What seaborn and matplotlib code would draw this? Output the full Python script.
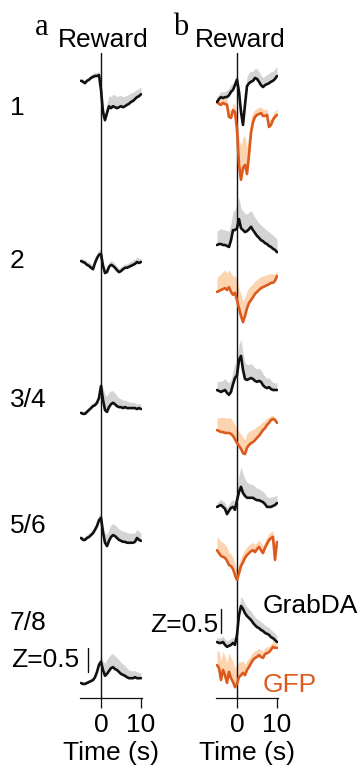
import numpy as np
import matplotlib
matplotlib.use("Agg")
import matplotlib.pyplot as plt
import seaborn as sns

# time axis (s), relative to reward delivery
time_s = [-5.0, -4.5, -4.0, -3.5, -3.0, -2.5, -2.0, -1.5, -1.0, -0.5,
          0.0, 0.5, 1.0, 1.5, 2.0, 2.5, 3.0, 3.5, 4.0, 4.5, 5.0,
          5.5, 6.0, 6.5, 7.0, 7.5, 8.0, 8.5, 9.0, 9.5, 10.0]

row_labels = ["1", "2", "3/4", "5/6", "7/8"]

# panel a: GrabDA mean Z and sem per session block
a_mean_1 = [0.40, 0.38, 0.35, 0.40, 0.42, 0.46, 0.48, 0.50, 0.50, 0.52, 0.21, -0.25, -0.42, -0.27, -0.13, -0.17,
            -0.13, -0.15, -0.17, -0.15, -0.13, -0.15, -0.13, -0.10, -0.08, -0.04, -0.02, 0.02, 0.06, 0.08, 0.12]
a_mean_2 = [0.02, 0.00, -0.02, -0.06, -0.08, -0.12, -0.15, -0.02, 0.08, 0.15, 0.17, -0.08, -0.23, -0.21, -0.10, -0.06,
            -0.08, -0.12, -0.17, -0.21, -0.19, -0.15, -0.12, -0.12, -0.10, -0.08, -0.06, -0.04, 0.00, -0.02, 0.00]
a_mean_3 = [-0.06, -0.08, -0.08, -0.04, 0.00, 0.04, 0.08, 0.10, 0.15, 0.25, 0.50, 0.21, 0.00, -0.04, 0.06, 0.12,
            0.15, 0.12, 0.08, 0.06, 0.06, 0.04, 0.06, 0.04, 0.04, 0.04, 0.04, 0.04, 0.02, 0.04, 0.02]
a_mean_4 = [-0.02, -0.06, -0.06, -0.02, 0.00, 0.04, 0.08, 0.15, 0.23, 0.35, 0.40, 0.10, -0.12, -0.19, -0.08, 0.00,
            0.04, 0.02, -0.02, -0.06, -0.08, -0.10, -0.10, -0.12, -0.12, -0.12, -0.12, -0.10, -0.02, -0.06, -0.08]
a_mean_5 = [0.00, -0.02, -0.02, 0.00, 0.02, 0.04, 0.06, 0.12, 0.23, 0.38, 0.44, 0.27, 0.15, 0.19, 0.25, 0.31,
            0.33, 0.29, 0.27, 0.23, 0.19, 0.17, 0.15, 0.12, 0.10, 0.10, 0.10, 0.12, 0.10, 0.10, 0.10]

a_sem_1 = [0.06, 0.06, 0.05, 0.06, 0.06, 0.07, 0.08, 0.08, 0.07, 0.08, 0.10, 0.12, 0.15, 0.20, 0.22, 0.24,
           0.25, 0.25, 0.24, 0.24, 0.22, 0.22, 0.21, 0.20, 0.20, 0.19, 0.18, 0.17, 0.16, 0.16, 0.15]
a_sem_2 = [0.06, 0.06, 0.07, 0.07, 0.08, 0.08, 0.08, 0.08, 0.09, 0.10, 0.10, 0.09, 0.09, 0.09, 0.09, 0.09,
           0.09, 0.08, 0.08, 0.08, 0.08, 0.08, 0.08, 0.08, 0.09, 0.09, 0.10, 0.10, 0.10, 0.09, 0.08]
a_sem_3 = [0.05, 0.05, 0.06, 0.06, 0.06, 0.07, 0.07, 0.08, 0.08, 0.10, 0.12, 0.25, 0.32, 0.33, 0.31, 0.28,
           0.25, 0.23, 0.21, 0.19, 0.17, 0.16, 0.15, 0.14, 0.13, 0.12, 0.12, 0.11, 0.10, 0.10, 0.09]
a_sem_4 = [0.06, 0.06, 0.06, 0.07, 0.07, 0.07, 0.08, 0.08, 0.09, 0.10, 0.10, 0.14, 0.20, 0.24, 0.25, 0.25,
           0.24, 0.23, 0.23, 0.22, 0.22, 0.22, 0.21, 0.21, 0.20, 0.20, 0.20, 0.19, 0.18, 0.17, 0.16]
a_sem_5 = [0.04, 0.04, 0.05, 0.05, 0.05, 0.06, 0.06, 0.07, 0.08, 0.10, 0.12, 0.18, 0.26, 0.30, 0.30, 0.29,
           0.28, 0.27, 0.26, 0.25, 0.24, 0.22, 0.21, 0.19, 0.17, 0.16, 0.15, 0.14, 0.13, 0.12, 0.11]

# panel b: GrabDA vs GFP
b_grab_1 = [-0.04, 0.02, 0.06, 0.04, 0.06, 0.06, 0.10, 0.17, 0.21, 0.31, 0.42, 0.17, -0.25, -0.52, -0.10, 0.29,
            0.35, 0.38, 0.40, 0.46, 0.44, 0.38, 0.31, 0.27, 0.31, 0.33, 0.35, 0.38, 0.40, 0.44, 0.50]
b_grab_2 = [0.00, 0.02, 0.02, 0.00, 0.00, -0.02, -0.04, 0.10, 0.31, 0.31, 0.35, 0.54, 0.35, 0.31, 0.27, 0.29,
            0.33, 0.38, 0.31, 0.25, 0.19, 0.15, 0.10, 0.08, 0.04, 0.02, -0.02, -0.04, -0.08, -0.10, -0.15]
b_grab_3 = [0.00, -0.02, -0.04, -0.02, 0.00, -0.06, -0.10, -0.04, 0.12, 0.25, 0.31, 0.62, 0.71, 0.42, 0.23, 0.21,
            0.23, 0.25, 0.23, 0.19, 0.17, 0.19, 0.17, 0.10, 0.06, 0.04, 0.06, 0.02, 0.00, 0.00, 0.00]
b_grab_4 = [-0.04, -0.02, 0.00, -0.04, -0.08, -0.19, -0.12, -0.06, -0.04, -0.10, 0.10, 0.27, 0.38, 0.25, 0.19, 0.15,
            0.15, 0.15, 0.15, 0.12, 0.10, 0.10, 0.08, 0.06, 0.02, -0.04, -0.04, -0.04, -0.02, 0.00, 0.04]
b_grab_5 = [0.00, -0.02, -0.02, 0.00, -0.06, -0.10, -0.08, -0.06, -0.02, -0.06, 0.15, 0.56, 0.75, 0.69, 0.60, 0.54,
            0.50, 0.46, 0.40, 0.35, 0.31, 0.29, 0.25, 0.23, 0.19, 0.17, 0.15, 0.10, 0.08, 0.04, 0.00]

b_grab_sem_1 = [0.10, 0.10, 0.12, 0.13, 0.12, 0.14, 0.15, 0.15, 0.14, 0.15, 0.12, 0.12, 0.15, 0.18, 0.20, 0.20,
                0.22, 0.22, 0.20, 0.20, 0.21, 0.21, 0.20, 0.20, 0.19, 0.20, 0.20, 0.21, 0.20, 0.21, 0.20]
b_grab_sem_2 = [0.28, 0.30, 0.32, 0.32, 0.31, 0.32, 0.33, 0.35, 0.38, 0.42, 0.50, 0.45, 0.42, 0.40, 0.38, 0.36,
                0.35, 0.34, 0.33, 0.32, 0.32, 0.31, 0.31, 0.30, 0.30, 0.29, 0.29, 0.28, 0.28, 0.27, 0.26]
b_grab_sem_3 = [0.18, 0.20, 0.22, 0.22, 0.24, 0.24, 0.25, 0.25, 0.28, 0.30, 0.30, 0.32, 0.35, 0.34, 0.33, 0.32,
                0.30, 0.30, 0.28, 0.27, 0.27, 0.26, 0.25, 0.24, 0.22, 0.20, 0.20, 0.18, 0.16, 0.15, 0.15]
b_grab_sem_4 = [0.10, 0.10, 0.12, 0.12, 0.13, 0.14, 0.14, 0.15, 0.15, 0.16, 0.20, 0.35, 0.42, 0.40, 0.35, 0.32,
                0.30, 0.28, 0.27, 0.26, 0.25, 0.24, 0.23, 0.22, 0.22, 0.21, 0.20, 0.20, 0.19, 0.18, 0.17]
b_grab_sem_5 = [0.10, 0.10, 0.11, 0.12, 0.12, 0.12, 0.13, 0.13, 0.12, 0.12, 0.12, 0.16, 0.20, 0.20, 0.19, 0.19,
                0.18, 0.18, 0.18, 0.17, 0.17, 0.17, 0.17, 0.16, 0.16, 0.16, 0.15, 0.15, 0.14, 0.14, 0.13]

b_gfp_1 = [0.02, -0.02, -0.04, 0.00, -0.02, -0.04, -0.29, -0.31, -0.15, -0.19, -0.56, -1.29, -1.60, -1.35, -1.29, -1.48,
           -1.08, -0.62, -0.40, -0.29, -0.25, -0.23, -0.21, -0.27, -0.27, -0.25, -0.50, -0.46, -0.35, -0.29, -0.25]
b_gfp_2 = [-0.04, -0.02, 0.00, 0.02, 0.04, 0.00, 0.06, -0.04, -0.10, -0.06, -0.21, -0.38, -0.54, -0.67, -0.54, -0.38,
           -0.27, -0.21, -0.15, -0.08, -0.04, 0.00, 0.04, 0.06, 0.08, 0.10, 0.12, 0.15, 0.15, 0.19, 0.29]
b_gfp_3 = [0.04, 0.02, 0.00, 0.00, -0.02, -0.02, -0.02, -0.04, -0.08, -0.15, -0.23, -0.29, -0.35, -0.44, -0.46, -0.33,
           -0.27, -0.23, -0.21, -0.17, -0.12, -0.08, -0.02, 0.04, 0.08, 0.15, 0.19, 0.25, 0.27, 0.25, 0.19]
b_gfp_4 = [0.10, 0.04, -0.02, -0.04, -0.06, -0.12, -0.21, -0.23, -0.29, -0.42, -0.52, -0.38, -0.23, -0.15, -0.06, 0.00,
           0.04, 0.08, 0.10, 0.06, 0.12, 0.17, 0.10, 0.04, 0.15, 0.23, 0.31, 0.35, 0.38, -0.10, 0.27]
b_gfp_5 = [0.06, 0.00, -0.25, -0.04, -0.15, -0.31, -0.08, -0.21, -0.29, -0.40, -0.33, -0.19, -0.15, -0.10, -0.15, -0.04,
           0.02, 0.10, 0.17, 0.21, 0.23, 0.27, 0.23, 0.21, 0.29, 0.31, 0.33, 0.38, 0.44, 0.42, 0.42]

b_gfp_sem_1 = [0.10, 0.10, 0.11, 0.12, 0.12, 0.12, 0.15, 0.15, 0.14, 0.15, 0.30, 0.55, 0.70, 0.65, 0.60, 0.55,
               0.45, 0.30, 0.20, 0.15, 0.14, 0.14, 0.13, 0.14, 0.13, 0.13, 0.14, 0.13, 0.13, 0.12, 0.12]
b_gfp_sem_2 = [0.30, 0.32, 0.34, 0.36, 0.38, 0.35, 0.36, 0.40, 0.38, 0.36, 0.40, 0.42, 0.45, 0.42, 0.40, 0.35,
               0.32, 0.30, 0.28, 0.27, 0.25, 0.25, 0.24, 0.23, 0.22, 0.22, 0.21, 0.20, 0.18, 0.15, 0.12]
b_gfp_sem_3 = [0.25, 0.28, 0.30, 0.30, 0.32, 0.30, 0.32, 0.32, 0.30, 0.30, 0.30, 0.30, 0.30, 0.32, 0.30, 0.30,
               0.28, 0.27, 0.26, 0.25, 0.24, 0.22, 0.20, 0.18, 0.16, 0.14, 0.12, 0.10, 0.08, 0.06, 0.05]
b_gfp_sem_4 = [0.28, 0.30, 0.30, 0.30, 0.28, 0.28, 0.26, 0.25, 0.24, 0.22, 0.20, 0.20, 0.19, 0.18, 0.18, 0.17,
               0.17, 0.16, 0.16, 0.16, 0.15, 0.15, 0.15, 0.15, 0.14, 0.14, 0.14, 0.13, 0.13, 0.12, 0.12]
b_gfp_sem_5 = [0.30, 0.35, 0.40, 0.38, 0.40, 0.42, 0.40, 0.42, 0.42, 0.40, 0.38, 0.32, 0.28, 0.25, 0.22, 0.20,
               0.18, 0.17, 0.16, 0.15, 0.15, 0.14, 0.14, 0.14, 0.13, 0.13, 0.12, 0.12, 0.12, 0.10, 0.10]

# layout (pixels on a 360x776 canvas)
FIG_W, FIG_H = 360, 776
PX_PER_Z = 48.0
AX_BOTTOM = 698
a_base = [100, 262, 410, 537, 683]
b_grab_base = [100, 245, 390, 505, 642]
b_gfp_base = [103, 290, 432, 555, 668]
label_baseline = [115, 268, 407, 533, 630]

BLACK = "#111111"
GRAY = "#d4d4d4"
ORANGE = "#dc5a1e"
PEACH = "#fdd4b0"
FS = 19

sns.set_theme(style="ticks")
plt.rcParams["font.family"] = ["Liberation Sans", "DejaVu Sans"]
plt.rcParams["text.color"] = "black"
plt.rcParams["xtick.color"] = "black"
plt.rcParams["xtick.labelcolor"] = "black"
plt.rcParams["axes.labelcolor"] = "black"

fig = plt.figure(figsize=(FIG_W / 100, FIG_H / 100), dpi=100)


def txt(x, y, s, **kw):
    kw.setdefault("fontsize", FS)
    kw.setdefault("va", "baseline")
    fig.text(x / FIG_W, 1 - y / FIG_H, s, **kw)


def make_axes(left_px):
    ax = fig.add_axes([left_px / FIG_W, 1 - AX_BOTTOM / FIG_H, 62 / FIG_W, AX_BOTTOM / FIG_H])
    ax.patch.set_alpha(0)
    return ax


def draw_trace(ax, mean, sem, base_px, line_color, band_color):
    y = base_px / PX_PER_Z - np.array(mean)
    top = y - np.array(sem)
    ax.fill_between(time_s, y, top, color=band_color, lw=0, zorder=1)
    sns.lineplot(x=time_s, y=y, ax=ax, color=line_color, lw=1.9, zorder=3)


def finish_axes(ax):
    ax.axvline(0, ymin=0, ymax=1 - 53 / AX_BOTTOM, color="#111111", lw=1.0, zorder=2)
    ax.set_xlim(-5.25, 10.25)
    ax.set_ylim(AX_BOTTOM / PX_PER_Z, 0)
    sns.despine(ax=ax, left=True)
    ax.set_yticks([])
    ax.set_xticks([0, 10])
    ax.set_xticklabels(["0", "10"])
    ax.tick_params(axis="x", direction="out", length=7, width=0.9, pad=4,
                   labelsize=FS, color="#111111", labelcolor="black")
    ax.spines["bottom"].set_linewidth(0.9)
    ax.spines["bottom"].set_color("#111111")
    ax.set_xlabel("Time (s)", fontsize=FS, labelpad=3, color="black")
    ax.set_ylabel("")


# panel a
ax_a = make_axes(80)
a_means = [a_mean_1, a_mean_2, a_mean_3, a_mean_4, a_mean_5]
a_sems = [a_sem_1, a_sem_2, a_sem_3, a_sem_4, a_sem_5]
for m, s, base in zip(a_means, a_sems, a_base):
    draw_trace(ax_a, m, s, base, BLACK, GRAY)
finish_axes(ax_a)
ax_a.plot([-3.25, -3.25], [672 / PX_PER_Z, 672 / PX_PER_Z - 0.5], color=BLACK, lw=1.0)

# panel b
ax_b = make_axes(216)
grab_means = [b_grab_1, b_grab_2, b_grab_3, b_grab_4, b_grab_5]
grab_sems = [b_grab_sem_1, b_grab_sem_2, b_grab_sem_3, b_grab_sem_4, b_grab_sem_5]
gfp_means = [b_gfp_1, b_gfp_2, b_gfp_3, b_gfp_4, b_gfp_5]
gfp_sems = [b_gfp_sem_1, b_gfp_sem_2, b_gfp_sem_3, b_gfp_sem_4, b_gfp_sem_5]
for m, s, base in zip(gfp_means, gfp_sems, b_gfp_base):
    draw_trace(ax_b, m, s, base, ORANGE, PEACH)
for m, s, base in zip(grab_means, grab_sems, b_grab_base):
    draw_trace(ax_b, m, s, base, BLACK, GRAY)
finish_axes(ax_b)
ax_b.plot([-4.0, -4.0], [633 / PX_PER_Z, 633 / PX_PER_Z - 0.5], color=BLACK, lw=1.0)

# titles and labels
txt(35, 35, "a", family=["Liberation Serif"], fontsize=22)
txt(103, 47, "Reward", ha="center")
txt(173, 35, "b", family=["Liberation Serif"], fontsize=22)
txt(240, 47, "Reward", ha="center")

for lab, yb in zip(row_labels, label_baseline):
    txt(10, yb, lab)
txt(11, 667, "Z=0.5")
txt(218, 632, "Z=0.5", ha="right")
txt(263, 613, "GrabDA")
txt(263, 692, "GFP", color=ORANGE)

fig.savefig("out.png", dpi=100)
